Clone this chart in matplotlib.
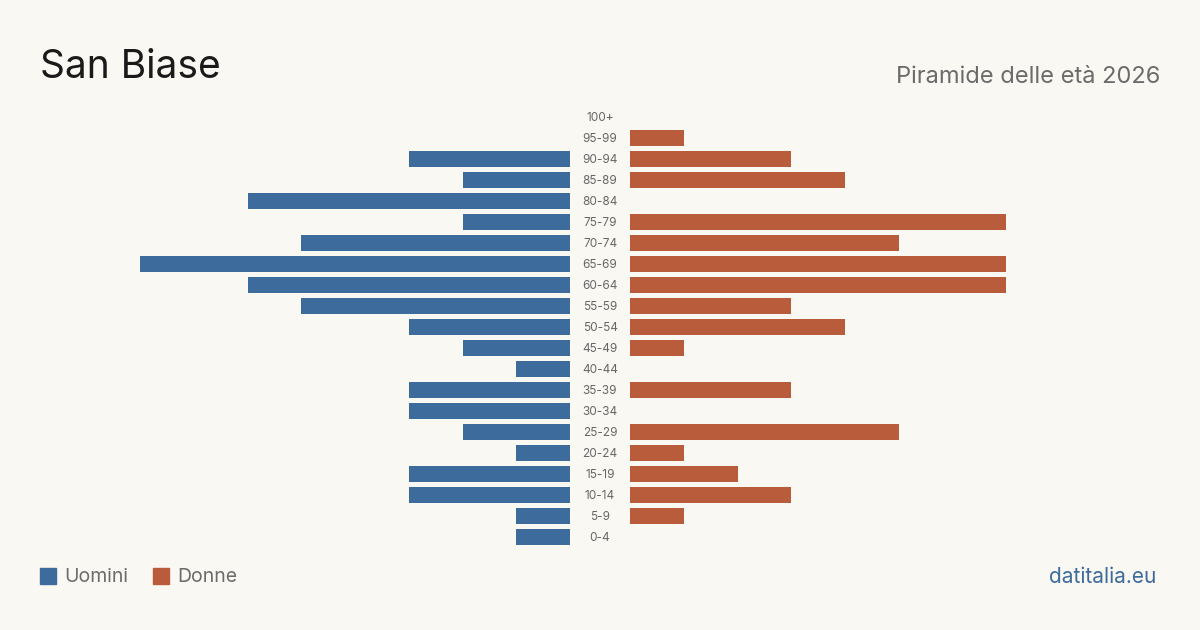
import matplotlib.pyplot as plt

# ---------------- DATA ----------------
age_groups = ["0-4", "5-9", "10-14", "15-19", "20-24", "25-29", "30-34", "35-39",
              "40-44", "45-49", "50-54", "55-59", "60-64", "65-69", "70-74",
              "75-79", "80-84", "85-89", "90-94", "95-99", "100+"]
uomini = [1, 1, 3, 3, 1, 2, 3, 3, 1, 2, 3, 5, 6, 8, 5, 2, 6, 2, 3, 0, 0]
donne = [0, 1, 3, 2, 1, 5, 0, 3, 0, 1, 4, 3, 7, 7, 5, 7, 0, 4, 3, 1, 0]

BG = "#faf8f3"
BLUE = "#3c6b9c"
ORANGE = "#b95c3c"
plt.rcParams["font.family"] = ["Inter", "DejaVu Sans"]

# ---------------- PLOT ----------------
fig = plt.figure(figsize=(12, 6.3), dpi=100, facecolor=BG)
W, H = 1200, 630
bottom = (H - 547.5) / H
height = 441 / H
ax_l = fig.add_axes([140 / W, bottom, 430 / W, height])
ax_r = fig.add_axes([630 / W, bottom, 430 / W, height])

y = list(range(len(age_groups)))
ax_l.barh(y, uomini, height=0.8, color=BLUE)
ax_r.barh(y, donne, height=0.8, color=ORANGE)
ax_l.set_xlim(8, 0)
ax_r.set_xlim(0, 8)

for ax in (ax_l, ax_r):
    ax.set_ylim(-0.5, len(age_groups) - 0.5)
    ax.set_facecolor("none")
    ax.axis("off")

for i, lab in enumerate(age_groups):
    ax_r.text(-30 / 430 * 8, i - 0.04, lab, ha="center", va="center",
              fontsize=8.5, color="#666666")

fig.text(40 / W, 1 - 67 / H, "San Biase", fontsize=28, color="#1a1a1a",
         ha="left", va="center")
fig.text(1160 / W, 1 - 77 / H, "Piramide delle età 2026", fontsize=17,
         color="#6b6b6b", ha="right", va="center")

# legend
fig.patches.append(plt.Rectangle((40 / W, 1 - 584 / H), 16 / W, 16 / H,
                                 transform=fig.transFigure, color=BLUE))
fig.text(64 / W, 1 - 577 / H, "Uomini", fontsize=14, color="#6b6b6b",
         ha="left", va="center")
fig.patches.append(plt.Rectangle((153 / W, 1 - 584 / H), 16 / W, 16 / H,
                                 transform=fig.transFigure, color=ORANGE))
fig.text(177 / W, 1 - 577 / H, "Donne", fontsize=14, color="#6b6b6b",
         ha="left", va="center")
fig.text(1156 / W, 1 - 577 / H, "datitalia.eu", fontsize=15, color=BLUE,
         ha="right", va="center")

fig.savefig("out.png", facecolor=BG)
